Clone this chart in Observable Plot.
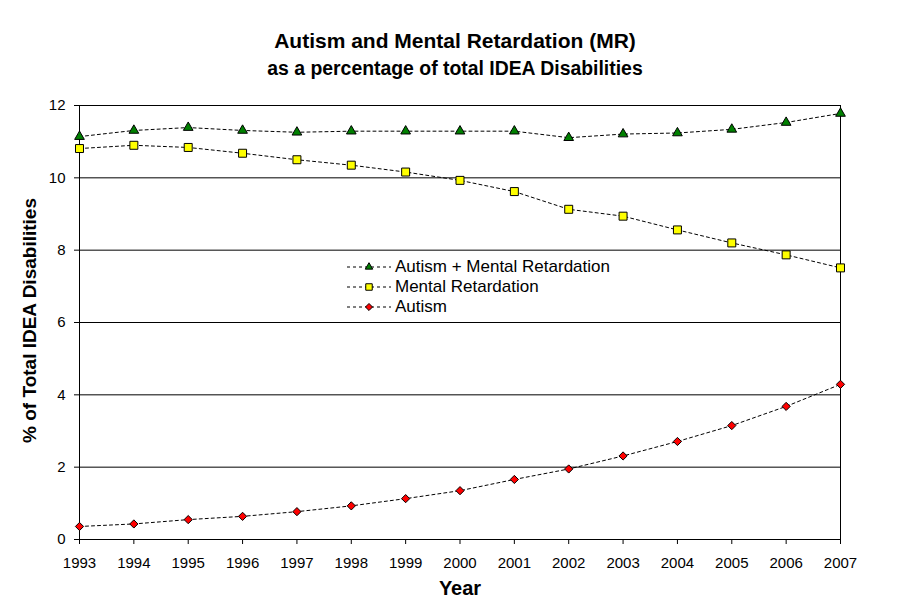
<!DOCTYPE html>
<html>
<head>
<meta charset="utf-8">
<script src="https://cdn.jsdelivr.net/npm/d3@7"></script>
<script src="https://cdn.jsdelivr.net/npm/@observablehq/plot@0.6"></script>
<style>
  body { margin: 0; background: #fff; font-family: "Liberation Sans", Arial, sans-serif; }
  #wrap { position: relative; width: 910px; height: 613px; }
  .title { position: absolute; left: 0; width: 910px; text-align: center; font-weight: bold; color: #000; white-space: nowrap; }
  #legend { position: absolute; left: 346px; top: 257px; font-size: 17px; }
  #legend .row { height: 20px; line-height: 20px; display: flex; align-items: center; white-space: nowrap; }
  #legend svg { margin-right: 3px; }
</style>
</head>
<body>
<div id="wrap">
  <div id="chart"></div>
  <div class="title" style="top:30px;font-size:21px;line-height:21px;">Autism and Mental Retardation (MR)</div>
  <div class="title" style="top:58.5px;font-size:19.4px;line-height:19.4px;">as a percentage of total IDEA Disabilities</div>
  <div id="legend"></div>
</div>
<script>
const years = [1993,1994,1995,1996,1997,1998,1999,2000,2001,2002,2003,2004,2005,2006,2007];
const autismPlusMR = [11.14,11.31,11.39,11.31,11.26,11.29,11.29,11.29,11.29,11.11,11.21,11.24,11.34,11.53,11.78];
const mentalRetardation = [10.81,10.90,10.84,10.68,10.50,10.35,10.16,9.93,9.62,9.13,8.94,8.56,8.20,7.87,7.51];
const autism = [0.36,0.43,0.55,0.64,0.77,0.93,1.13,1.35,1.66,1.95,2.31,2.71,3.15,3.68,4.29];
const yTicks = [0,2,4,6,8,10,12];
const seriesNames = ["Autism + Mental Retardation","Mental Retardation","Autism"];

const seriesDefs = [
  {name: seriesNames[0], values: autismPlusMR, symbol: "triangle", fill: "#008000", r: 3.6, legendArea: 24},
  {name: seriesNames[1], values: mentalRetardation, symbol: "square", fill: "#ffff00", r: 4.5, legendArea: 42},
  {name: seriesNames[2], values: autism, symbol: "diamond2", fill: "#ff0000", r: 3.7, legendArea: 32}
];

const marks = [
  Plot.ruleY(yTicks, {stroke: "#000", strokeWidth: 1}),
  Plot.ruleX([2007], {stroke: "#000", strokeWidth: 1}),
  Plot.ruleX([1993], {stroke: "#000", strokeWidth: 1})
];
for (const s of seriesDefs) {
  const data = years.map((y, i) => ({year: y, value: s.values[i]}));
  marks.push(Plot.line(data, {x: "year", y: "value", stroke: "#000", strokeWidth: 1, strokeDasharray: "3,3"}));
  marks.push(Plot.dot(data, {x: "year", y: "value", symbol: () => s.symbol, fill: s.fill, stroke: "#000", strokeWidth: 1, r: s.r}));
}

const chart = Plot.plot({
  width: 910,
  height: 613,
  marginTop: 105,
  marginBottom: 74,
  marginLeft: 79,
  marginRight: 70,
  style: {fontFamily: "'Liberation Sans', Arial, sans-serif", fontSize: "15px", color: "#000", background: "#fff", overflow: "visible"},
  symbol: {type: "identity"},
  x: {domain: [1993, 2007], label: null},
  y: {domain: [0, 12], label: null},
  marks: [
    ...marks,
    Plot.axisX({ticks: years, tickFormat: d => String(d), tickSize: 5, tickPadding: 13, label: null, fontSize: 15}),
    Plot.axisY({ticks: yTicks, tickSize: 5, tickPadding: 9, label: null, fontSize: 15}),
    Plot.text(["Year"], {frameAnchor: "bottom", dy: 55, fontWeight: "bold", fontSize: 20}),
    Plot.text(["% of Total IDEA Disabilities"], {frameAnchor: "left", textAnchor: "middle", dx: -50, dy: -2, rotate: -90, fontWeight: "bold", fontSize: 19})
  ]
});
document.getElementById("chart").appendChild(chart);

// legend
const legend = document.getElementById("legend");
const symMap = {triangle: d3.symbolTriangle, square: d3.symbolSquare, diamond2: d3.symbolDiamond2};
for (const s of seriesDefs) {
  const row = document.createElement("div");
  row.className = "row";
  const svg = d3.create("svg").attr("width", 46).attr("height", 14);
  svg.append("line").attr("x1", 1).attr("x2", 45).attr("y1", 7).attr("y2", 7)
    .attr("stroke", "#000").attr("stroke-dasharray", "3,3");
  svg.append("path").attr("transform", "translate(23,7)")
    .attr("d", d3.symbol(symMap[s.symbol], s.legendArea)())
    .attr("fill", s.fill).attr("stroke", "#000");
  row.appendChild(svg.node());
  const t = document.createElement("span");
  t.textContent = s.name;
  row.appendChild(t);
  legend.appendChild(row);
}
</script>
</body>
</html>
